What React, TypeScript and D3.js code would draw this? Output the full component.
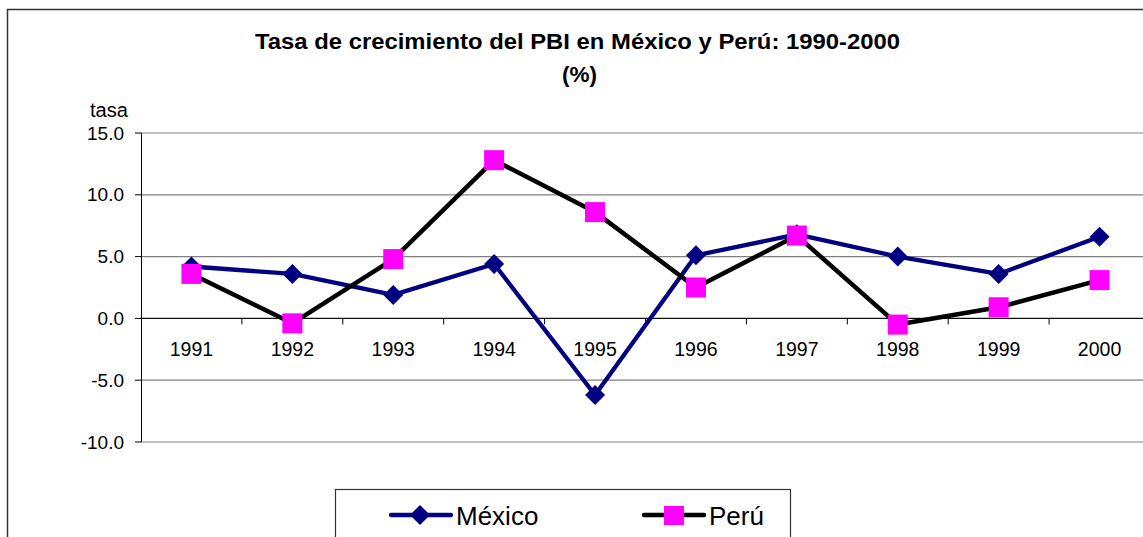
import React from "react";
import * as d3 from "d3";

const years = ["1991", "1992", "1993", "1994", "1995", "1996", "1997", "1998", "1999", "2000"];
const mexico = [4.2, 3.6, 1.9, 4.4, -6.2, 5.1, 6.8, 5.0, 3.6, 6.6];
const peru = [3.6, -0.4, 4.8, 12.8, 8.6, 2.5, 6.7, -0.5, 0.9, 3.1];
const yTicks = [15, 10, 5, 0, -5, -10];

const W = 1143;
const H = 537;
const FONT = "'Liberation Sans', Arial, sans-serif";

export default function App() {
  const x = d3.scaleBand<string>().domain(years).range([141, 1150]);
  const y = d3.scaleLinear().domain([-10, 15]).range([442, 133]);
  const cx = (d: string) => (x(d) as number) + x.bandwidth() / 2;

  const line = d3
    .line<number>()
    .x((_, i) => cx(years[i]))
    .y((v) => y(v));

  const diamond = (px: number, py: number, r: number) =>
    `M${px},${py - r}L${px + r},${py}L${px},${py + r}L${px - r},${py}Z`;

  const boundaries = years.map((d) => x(d) as number).slice(1).concat([1150]);

  return (
    <svg
      width={W}
      height={H}
      style={{ position: "absolute", left: 0, top: 0, display: "block" }}
      fontFamily={FONT}
    >
      <rect x={0} y={0} width={W} height={H} fill="#fff" />
      <rect x={7.5} y={9.5} width={1150} height={560} fill="none" stroke="#333" strokeWidth={1.5} />

      <text x={577.5} y={48.5} textAnchor="middle" fontSize={21.5} fontWeight="bold" textLength={645} lengthAdjust="spacingAndGlyphs">
        Tasa de crecimiento del PBI en México y Perú: 1990-2000
      </text>
      <text x={579.5} y={82} textAnchor="middle" fontSize={22} fontWeight="bold" textLength={35} lengthAdjust="spacingAndGlyphs">
        (%)
      </text>
      <text x={109} y={116.5} textAnchor="middle" fontSize={19.5} textLength={38} lengthAdjust="spacingAndGlyphs">
        tasa
      </text>

      {yTicks.map((t) => (
        <g key={t}>
          <line x1={141} x2={1150} y1={y(t)} y2={y(t)} stroke="#808080" strokeWidth={1.2} />
          <line x1={135} x2={141} y1={y(t)} y2={y(t)} stroke="#000" strokeWidth={1} />
          <text x={124} y={y(t) + 6.5} textAnchor="end" fontSize={19}>
            {t.toFixed(1)}
          </text>
        </g>
      ))}
      <line x1={141.5} x2={141.5} y1={133} y2={442} stroke="#000" strokeWidth={1} />
      <line x1={141} x2={1150} y1={y(0)} y2={y(0)} stroke="#000" strokeWidth={1} />
      {boundaries.map((b, i) => (
        <line key={i} x1={b} x2={b} y1={y(0)} y2={y(0) + 6} stroke="#000" strokeWidth={1} />
      ))}
      {years.map((d) => (
        <text key={d} x={cx(d)} y={356} textAnchor="middle" fontSize={19.5}>
          {d}
        </text>
      ))}

      <path d={line(mexico) || ""} fill="none" stroke="#000080" strokeWidth={4.3} strokeLinejoin="round" />
      {mexico.map((v, i) => (
        <path key={i} d={diamond(cx(years[i]), y(v), 10)} fill="#000080" />
      ))}

      <path d={line(peru) || ""} fill="none" stroke="#000" strokeWidth={4.5} strokeLinejoin="round" />
      {peru.map((v, i) => (
        <rect key={i} x={cx(years[i]) - 10} y={y(v) - 10} width={20} height={20} fill="#ff00ff" />
      ))}

      <rect x={335.5} y={489.5} width={455} height={80} fill="#fff" stroke="#333" strokeWidth={1.2} />
      <line x1={391} x2={451} y1={515} y2={515} stroke="#000080" strokeWidth={4.3} strokeLinecap="round" />
      <path d={diamond(420, 515, 10)} fill="#000080" />
      <text x={456} y={525} fontSize={26}>México</text>
      <line x1={644} x2={704} y1={515} y2={515} stroke="#000" strokeWidth={4.5} strokeLinecap="round" />
      <rect x={664} y={506} width={20} height={19} fill="#ff00ff" />
      <text x={709} y={525} fontSize={26}>Perú</text>
    </svg>
  );
}
